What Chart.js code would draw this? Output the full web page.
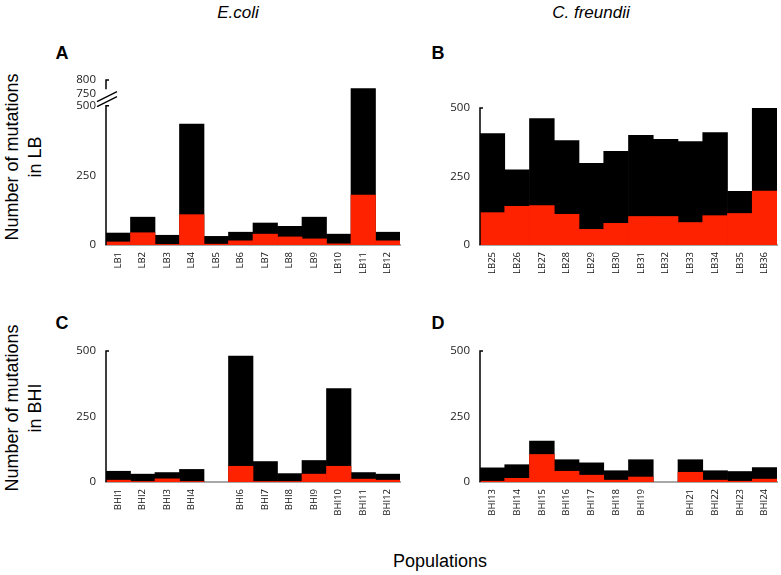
<!DOCTYPE html>
<html>
<head>
<meta charset="utf-8">
<script src="https://cdn.jsdelivr.net/npm/chart.js@4"></script>
<style>
  body { margin: 0; background: #fff; width: 781px; height: 575px; position: relative; overflow: hidden; font-family: "Liberation Sans", Arial, sans-serif; }
  canvas { position: absolute; }
  .t { position: absolute; transform: translate(-50%, -50%); white-space: nowrap; color: #000; }
  .it { font-style: italic; font-size: 17px; }
  .let { font-weight: bold; font-size: 18px; }
  .ytitle { font-size: 18px; line-height: 23px; text-align: center; transform: translate(-50%, -50%) rotate(-90deg); }
</style>
</head>
<body>
<div class="t it" style="left:238px;top:13px">E.coli</div>
<div class="t it" style="left:591px;top:13px">C. freundii</div>
<div class="t let" style="left:62px;top:53px">A</div>
<div class="t let" style="left:438px;top:53px">B</div>
<div class="t let" style="left:62px;top:323px">C</div>
<div class="t let" style="left:438px;top:323px">D</div>
<div class="t ytitle" style="left:24px;top:157px">Number of mutations<br>in LB</div>
<div class="t ytitle" style="left:24px;top:408px">Number of mutations<br>in BHI</div>
<div class="t" style="left:440px;top:561px;font-size:18px">Populations</div>

<canvas id="cA"></canvas>
<canvas id="cB"></canvas>
<canvas id="cC"></canvas>
<canvas id="cD"></canvas>

<script>
// E. coli in LB
const labelsA = ['LB1','LB2','LB3','LB4','LB5','LB6','LB7','LB8','LB9','LB10','LB11','LB12'];
const totalA  = [43, 100, 35, 434, 31, 46, 79, 67, 100, 39, 768, 46];
const redA    = [11, 44, 2, 109, 3, 15, 39, 29, 22, 4, 179, 15];

// C. freundii in LB
const labelsB = ['LB25','LB26','LB27','LB28','LB29','LB30','LB31','LB32','LB33','LB34','LB35','LB36'];
const totalB  = [406, 274, 461, 381, 298, 342, 400, 385, 377, 410, 196, 500];
const redB    = [118, 141, 144, 112, 57, 79, 104, 104, 82, 107, 115, 197];

// E. coli in BHI (BHI5 missing)
const labelsC = ['BHI1','BHI2','BHI3','BHI4','','BHI6','BHI7','BHI8','BHI9','BHI10','BHI11','BHI12'];
const totalC  = [41, 30, 36, 48, null, 480, 78, 32, 82, 356, 36, 30];
const redC    = [7, 2, 12, 2, null, 60, 2, 2, 30, 60, 11, 7];

// C. freundii in BHI (BHI20 missing)
const labelsD = ['BHI13','BHI14','BHI15','BHI16','BHI17','BHI18','BHI19','','BHI21','BHI22','BHI23','BHI24'];
const totalD  = [54, 66, 156, 85, 73, 43, 85, null, 85, 43, 40, 55];
const redD    = [3, 14, 105, 41, 26, 7, 19, null, 37, 7, 3, 11];

const ticksLow = [0, 250, 500];
const ticksBroken = [0, 250, 500, 750, 800];

// axis with a break between 500 and 750
const breakVals = [0, 500, 750, 800];
const breakFrac = [0, 0.843, 0.919, 1];

class BrokenScale extends Chart.LinearScale {
  static id = 'broken';
  static defaults = {};
  getPixelForValue(v) {
    if (v === null || v === undefined) return NaN;
    let i = 1;
    while (i < breakVals.length - 1 && v > breakVals[i]) i++;
    const f = breakFrac[i-1] + (v - breakVals[i-1]) / (breakVals[i] - breakVals[i-1]) * (breakFrac[i] - breakFrac[i-1]);
    return this.getPixelForDecimal(f);
  }
  getValueForPixel(p) {
    const f = this.getDecimalForPixel(p);
    let i = 1;
    while (i < breakFrac.length - 1 && f > breakFrac[i]) i++;
    return breakVals[i-1] + (f - breakFrac[i-1]) / (breakFrac[i] - breakFrac[i-1]) * (breakVals[i] - breakVals[i-1]);
  }
}
Chart.register(BrokenScale);

const axisLine = {
  id: 'axisLine',
  afterDatasetsDraw(chart, args, opts) {
    const y = chart.scales.y;
    const ax = chart.chartArea.left;
    const ctx = chart.ctx;
    ctx.save();
    ctx.strokeStyle = '#000';
    ctx.lineWidth = 1.5;
    const y0 = y.getPixelForValue(0), y5 = y.getPixelForValue(500);
    ctx.beginPath();
    ctx.moveTo(ax, y0); ctx.lineTo(ax, y5); ctx.lineTo(ax + 3, y5);
    ctx.stroke();
    if (opts.broken) {
      const y75 = y.getPixelForValue(750), y8 = y.getPixelForValue(800);
      ctx.beginPath();
      ctx.moveTo(ax + 3, y8); ctx.lineTo(ax, y8); ctx.lineTo(ax, y75 - 4);
      ctx.stroke();
      const ym = (y5 + y75) / 2;
      ctx.lineWidth = 1.3;
      ctx.beginPath();
      ctx.moveTo(ax - 9, ym + 2); ctx.lineTo(ax + 11, ym - 8);
      ctx.moveTo(ax - 9, ym + 7); ctx.lineTo(ax + 11, ym - 3);
      ctx.stroke();
    }
    ctx.restore();
  }
};

function panel(id, area, labels, total, red, broken) {
  const cv = document.getElementById(id);
  const left = area.left - 66, top = area.top - 10;
  const w = area.right + 10 - left, h = area.bottom + 42 - top;
  cv.width = w; cv.height = h;
  cv.style.left = left + 'px'; cv.style.top = top + 'px';
  cv.style.width = w + 'px'; cv.style.height = h + 'px';
  const tickVals = broken ? ticksBroken : ticksLow;
  return new Chart(cv, {
    type: 'bar',
    data: {
      labels,
      datasets: [
        { data: red, backgroundColor: '#ff2200', categoryPercentage: 1, barPercentage: 1 },
        { data: total, backgroundColor: '#000000', categoryPercentage: 1, barPercentage: 1 }
      ]
    },
    options: {
      responsive: false,
      animation: false,
      devicePixelRatio: 1,
      layout: { padding: { top: 10, right: 10, left: 0, bottom: 0 } },
      plugins: { legend: { display: false }, tooltip: { enabled: false }, axisLine: { broken } },
      scales: {
        x: {
          stacked: true,
          grid: { display: false, drawTicks: false },
          border: { display: true, color: '#a8a8a8', width: 2 },
          ticks: { autoSkip: false, minRotation: 90, maxRotation: 90, padding: 7, color: '#111',
                   font: { family: 'Open Sans', size: 9.5 } },
          afterFit: s => { s.height = 42; }
        },
        y: {
          type: broken ? 'broken' : 'linear',
          stacked: false,
          min: 0, max: broken ? 800 : 500,
          grid: { display: false, drawTicks: false },
          border: { display: false },
          ticks: { padding: 10, color: '#222', font: { family: 'Open Sans', size: 11.5 } },
          afterBuildTicks: s => { s.ticks = tickVals.map(v => ({ value: v })); },
          afterFit: s => { s.width = 66; }
        }
      }
    },
    plugins: [axisLine]
  });
}

panel('cA', { left: 106, right: 400, top: 73, bottom: 245 }, labelsA, totalA, redA, true);
panel('cB', { left: 480, right: 777, top: 101, bottom: 245 }, labelsB, totalB, redB, false);
panel('cC', { left: 106, right: 400, top: 344, bottom: 482 }, labelsC, totalC, redC, false);
panel('cD', { left: 480, right: 777, top: 344, bottom: 482 }, labelsD, totalD, redD, false);
</script>
</body>
</html>
